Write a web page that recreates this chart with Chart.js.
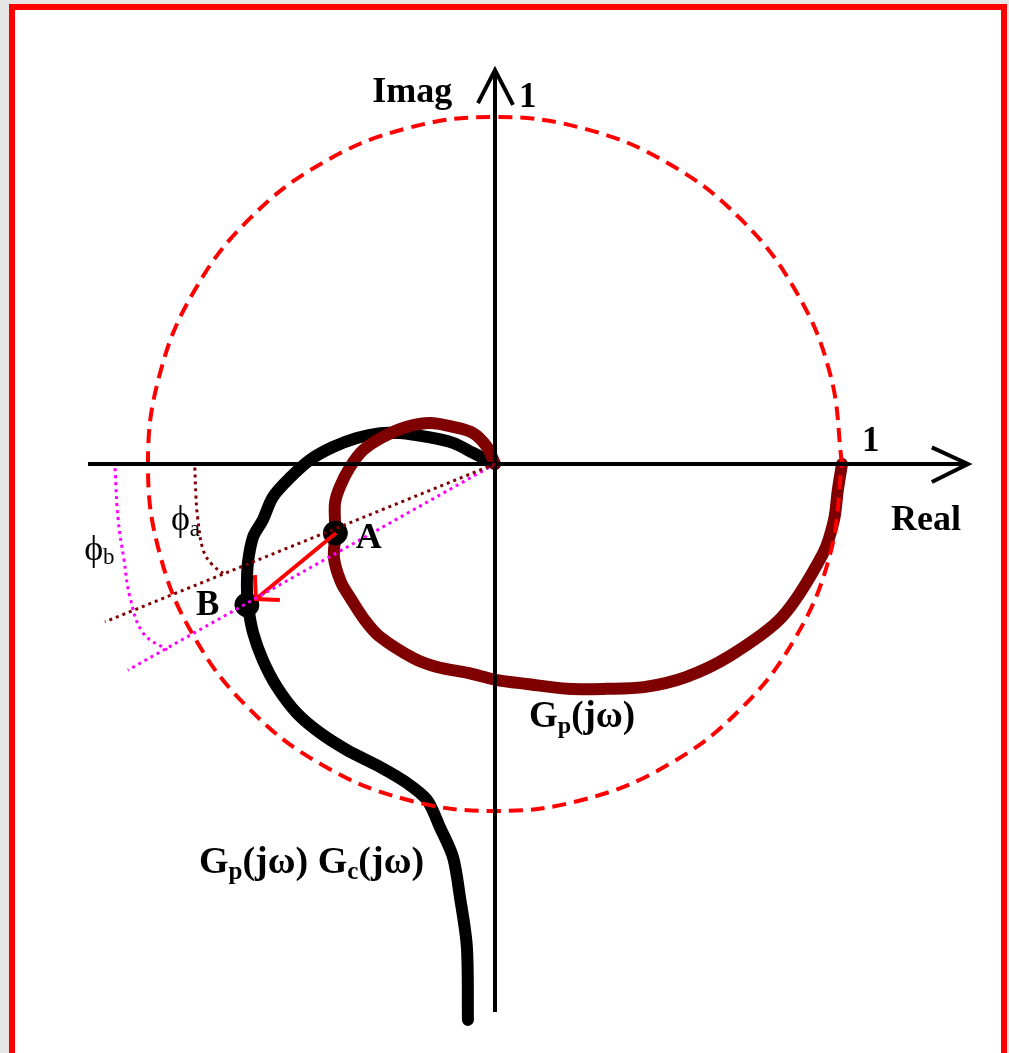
<!DOCTYPE html>
<html>
<head>
<meta charset="utf-8">
<script src="https://cdn.jsdelivr.net/npm/chart.js@4/dist/chart.umd.min.js"></script>
<style>
  html, body { margin: 0; padding: 0; background: #e6e6e6; }
  #wrap { position: relative; width: 1009px; height: 1053px; }
</style>
</head>
<body>
<div id="wrap"><canvas id="nyquist"></canvas></div>
<script>
// Unit circle |G(jw)| = 1
const circleRe = [1.000, 0.966, 0.866, 0.707, 0.500, 0.259, 0.000, -0.259, -0.500, -0.707, -0.866, -0.966, -1.000,
                  -0.966, -0.866, -0.707, -0.500, -0.259, 0.000, 0.259, 0.500, 0.707, 0.866, 0.966, 1.000];
const circleIm = [0.000, 0.259, 0.500, 0.707, 0.866, 0.966, 1.000, 0.966, 0.866, 0.707, 0.500, 0.259, 0.000,
                  -0.259, -0.500, -0.707, -0.866, -0.966, -1.000, -0.966, -0.866, -0.707, -0.500, -0.259, 0.000];

// Plant locus Gp(jw)
const gpRe = [0.000, -0.023, -0.063, -0.121, -0.187, -0.254, -0.323, -0.380, -0.418, -0.447, -0.461, -0.461, -0.460,
              -0.464, -0.444, -0.415, -0.375, -0.334, -0.236, -0.167, -0.078, 0.003, 0.092, 0.210, 0.320, 0.429,
              0.550, 0.677, 0.827, 0.945, 0.977, 0.988, 1.000];
const gpIm = [0.000, 0.049, 0.089, 0.107, 0.118, 0.107, 0.078, 0.040, -0.009, -0.066, -0.112, -0.170, -0.202,
              -0.271, -0.340, -0.389, -0.450, -0.496, -0.559, -0.585, -0.602, -0.622, -0.634, -0.648, -0.648, -0.643,
              -0.614, -0.553, -0.441, -0.259, -0.161, -0.075, 0.000];

// Compensated locus Gp(jw) Gc(jw)
const gpgcRe = [0.000, -0.063, -0.121, -0.196, -0.274, -0.331, -0.398, -0.467, -0.533, -0.588, -0.640, -0.669, -0.697,
                -0.712, -0.715, -0.712, -0.697, -0.669, -0.628, -0.571, -0.504, -0.427, -0.331, -0.254, -0.196,
                -0.159, -0.121, -0.101, -0.081, -0.078];
const gpgcIm = [0.000, 0.032, 0.061, 0.078, 0.089, 0.089, 0.075, 0.049, 0.012, -0.037, -0.095, -0.161, -0.210,
                -0.285, -0.354, -0.406, -0.487, -0.565, -0.643, -0.718, -0.775, -0.824, -0.873, -0.919, -0.968,
                -1.046, -1.133, -1.248, -1.392, -1.602];

// Points A (on Gp) and B (on Gp*Gc)
const markRe = [-0.460, -0.715];
const markIm = [-0.199, -0.406];

// Shift vector from A to B, with its head
const shiftRe = [-0.458, -0.689];
const shiftIm = [-0.199, -0.389];
const headRe = [-0.692, -0.689, -0.620];
const headIm = [-0.320, -0.389, -0.392];

// Phase rays through A and B
const rayARe = [0.000, -1.124];
const rayAIm = [0.000, -0.455];
const rayBRe = [0.000, -1.058];
const rayBIm = [0.000, -0.594];

// Phase arcs phi_a and phi_b
const arcARe = [-0.865, -0.862, -0.857, -0.841, -0.815, -0.784];
const arcAIm = [-0.010, -0.090, -0.153, -0.248, -0.290, -0.315];
const arcBRe = [-1.095, -1.086, -1.069, -1.052, -1.014, -0.945];
const arcBIm = [-0.012, -0.161, -0.277, -0.383, -0.487, -0.536];

// Axes and arrow heads
const realAxisRe = [-1.173, 1.363];
const realAxisIm = [0, 0];
const realHeadRe = [1.259, 1.363, 1.259];
const realHeadIm = [0.048, 0.000, -0.052];
const imagAxisRe = [0, 0];
const imagAxisIm = [-1.579, 1.135];
const imagHeadRe = [-0.049, 0.000, 0.052];
const imagHeadIm = [1.040, 1.135, 1.035];

const pts = (re, im) => re.map((x, i) => ({ x, y: im[i] }));

function line(re, im, color, width, extra) {
  return Object.assign({
    data: pts(re, im),
    showLine: true,
    borderColor: color,
    backgroundColor: color,
    borderWidth: width,
    pointRadius: 0,
    fill: false,
    tension: 0,
    borderCapStyle: 'round',
    borderJoinStyle: 'round'
  }, extra || {});
}

const datasets = [
  line(gpgcRe, gpgcIm, '#000000', 12, { tension: 0.3, order: 9 }),
  line(gpRe, gpIm, '#7f0000', 12, { tension: 0.3, order: 8 }),
  line(circleRe, circleIm, '#ff0000', 4, { tension: 0.4, borderDash: [14, 8], borderCapStyle: 'butt', order: 7 }),
  line(realAxisRe, realAxisIm, '#000000', 4, { borderCapStyle: 'butt', order: 6 }),
  line(realHeadRe, realHeadIm, '#000000', 4, { borderJoinStyle: 'miter', borderCapStyle: 'butt', order: 6 }),
  line(imagAxisRe, imagAxisIm, '#000000', 4, { borderCapStyle: 'butt', order: 6 }),
  line(imagHeadRe, imagHeadIm, '#000000', 4, { borderJoinStyle: 'miter', borderCapStyle: 'butt', order: 6 }),
  {
    data: pts(markRe, markIm),
    showLine: false,
    pointRadius: 12,
    pointStyle: 'circle',
    backgroundColor: '#000000',
    borderColor: '#000000',
    pointBackgroundColor: '#000000',
    pointBorderColor: '#000000',
    pointBorderWidth: 1,
    order: 5
  },
  line(shiftRe, shiftIm, '#ff0000', 4, { borderCapStyle: 'butt', order: 4 }),
  line(headRe, headIm, '#ff0000', 4, { borderCapStyle: 'butt', borderJoinStyle: 'miter', order: 4 }),
  line(rayARe, rayAIm, '#7f0000', 3, { borderDash: [3, 4], borderCapStyle: 'butt', order: 1 }),
  line(arcARe, arcAIm, '#7f0000', 3, { borderDash: [3, 4], borderCapStyle: 'butt', tension: 0.4, order: 1 }),
  line(rayBRe, rayBIm, '#ff00ff', 3, { borderDash: [3, 4], borderCapStyle: 'butt', order: 2 }),
  line(arcBRe, arcBIm, '#ff00ff', 3, { borderDash: [3, 4], borderCapStyle: 'butt', tension: 0.4, order: 2 })
];

// Page frame behind the plot
const framePlugin = {
  id: 'frame',
  beforeDraw(chart) {
    const c = chart.ctx;
    c.save();
    c.fillStyle = '#e6e6e6';
    c.fillRect(0, 0, chart.width, chart.height);
    c.fillStyle = '#ffffff';
    c.fillRect(12, 7, 992, chart.height);
    c.strokeStyle = '#ff0000';
    c.lineWidth = 6;
    c.strokeRect(12, 7, 992, chart.height + 20);
    c.restore();
  }
};

const SERIF = '"Liberation Serif", "Times New Roman", serif';

// Text labels, anchored in the complex plane (left edge, baseline)
const labels = [
  { re: -0.354, im: 1.043, parts: [{ t: 'Imag', s: 36, b: true }] },
  { re: 0.069, im: 1.029, parts: [{ t: '1', s: 35, b: true }] },
  { re: 1.058, im: 0.037, parts: [{ t: '1', s: 35, b: true }] },
  { re: 1.141, im: -0.190, parts: [{ t: 'Real', s: 36, b: true }] },
  { re: -0.401, im: -0.242, parts: [{ t: 'A', s: 36, b: true }] },
  { re: -0.862, im: -0.435, parts: [{ t: 'B', s: 35, b: true }] },
  { re: -0.934, im: -0.190, parts: [{ t: '\u03D5', s: 36 }, { t: 'a', s: 23, dy: 6 }] },
  { re: -1.184, im: -0.277, parts: [{ t: '\u03D5', s: 36 }, { t: 'b', s: 23, dy: 4 }] },
  { re: 0.098, im: -0.758, parts: [{ t: 'G', s: 37, b: true }, { t: 'p', s: 24, b: true, dy: 6 }, { t: '(j\u03C9)', s: 37, b: true }] },
  { re: -0.853, im: -1.179, parts: [{ t: 'G', s: 38, b: true }, { t: 'p', s: 25, b: true, dy: 6 }, { t: '(j\u03C9) G', s: 38, b: true },
                                    { t: 'c', s: 25, b: true, dy: 6 }, { t: '(j\u03C9)', s: 38, b: true }] }
];

const labelPlugin = {
  id: 'labels',
  afterDraw(chart) {
    const c = chart.ctx;
    const xs = chart.scales.x, ys = chart.scales.y;
    c.save();
    c.fillStyle = '#000000';
    c.textBaseline = 'alphabetic';
    c.textAlign = 'left';
    labels.forEach(l => {
      let x = xs.getPixelForValue(l.re);
      const y = ys.getPixelForValue(l.im);
      l.parts.forEach(p => {
        c.font = (p.b ? 'bold ' : '') + p.s + 'px ' + SERIF;
        c.fillText(p.t, x, y + (p.dy || 0));
        x += c.measureText(p.t).width;
      });
    });
    c.restore();
  }
};

new Chart(document.getElementById('nyquist'), {
  type: 'scatter',
  data: { datasets },
  options: {
    responsive: true,
    maintainAspectRatio: false,
    animation: false,
    events: [],
    layout: { padding: 0, autoPadding: false },
    plugins: { legend: { display: false }, tooltip: { enabled: false } },
    scales: {
      x: { type: 'linear', min: -1.4265, max: 1.4813, display: false },
      y: { type: 'linear', min: -1.6974, max: 1.3372, display: false }
    }
  },
  plugins: [framePlugin, labelPlugin]
});
</script>
</body>
</html>
